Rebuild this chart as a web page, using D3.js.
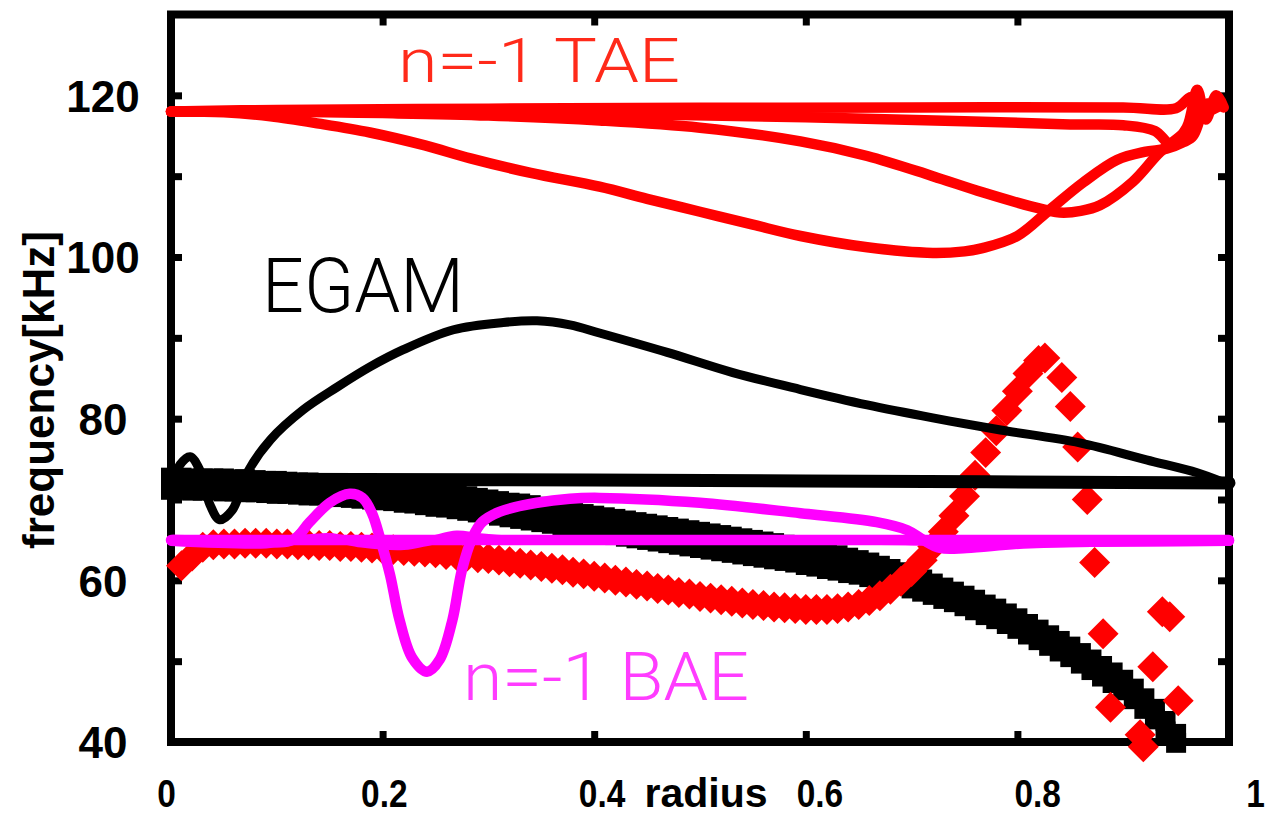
<!DOCTYPE html>
<html><head><meta charset="utf-8">
<script src="https://cdn.jsdelivr.net/npm/d3@7"></script>
<style>body{margin:0;background:#fff;} svg{display:block;}</style>
</head><body>
<svg id="chart" width="1281" height="816"></svg>
<script>
// ---------- ticks ----------
const xTickMarks = [0.2, 0.4, 0.6, 0.8];
const xTickLabels = [0, 0.2, 0.4, 0.6, 0.8, 1];
const yTickMarks = [50, 60, 70, 80, 90, 100, 110, 120];
const yTickLabels = [40, 60, 80, 100, 120];

// ---------- n=-1 TAE lines (red) ----------
const taeFlatUpper = [[0,118.0],[0.1,118.2],[0.3,118.35],[0.5,118.45],[0.7,118.5],[0.9,118.5],[0.95,118.4],[0.965,119.8],[0.975,118.0],[0.99,118.6]];
const taeFlatLower = [[0,118.0],[0.2,117.95],[0.4,117.7],[0.6,117.3],[0.75,116.8],[0.85,116.4],[0.9,116.3],[0.93,115.6],[0.945,114.0],[0.96,116.0],[0.97,120.7],[0.978,117.0],[0.988,120.0],[0.995,118.5]];
const taeCurveA = [[0,118.0],[0.1,118.0],[0.2,117.8],[0.3,117.5],[0.405,116.9],[0.5,116.0],[0.595,114.3],[0.658,112.5],[0.72,110.0],[0.767,108.0],[0.812,106.3],[0.84,105.5],[0.86,105.7],[0.878,106.4],[0.909,109.3],[0.935,113.0],[0.957,115.3],[0.972,117.5],[0.98,119.0]];
const taeCurveB = [[0,118.0],[0.05,117.9],[0.094,117.4],[0.14,116.5],[0.188,115.4],[0.24,113.8],[0.283,112.2],[0.34,110.4],[0.405,108.7],[0.45,107.2],[0.5,105.6],[0.55,104.0],[0.595,102.6],[0.658,101.2],[0.72,100.5],[0.75,100.7],[0.767,101.1],[0.8,102.6],[0.831,105.9],[0.862,109.2],[0.894,112.0],[0.92,113.0],[0.941,113.4],[0.957,114.2],[0.966,115.0],[0.975,118.5]];

// ---------- EGAM & black lines ----------
const egam = [[0,71.5],[0.0085,74.3],[0.018,75.3],[0.027,73.7],[0.037,69.3],[0.046,67.5],[0.058,68.7],[0.072,73.3],[0.094,77.4],[0.125,81.1],[0.157,83.9],[0.188,86.4],[0.219,88.5],[0.267,91.0],[0.314,91.9],[0.346,92.1],[0.377,91.6],[0.405,90.6],[0.469,88.2],[0.531,85.7],[0.595,83.6],[0.658,81.7],[0.72,80.1],[0.784,78.6],[0.859,77.0],[0.922,74.9],[0.97,73.3],[0.993,72.2]];
const blackFlat = [[0,72.5],[0.3,72.45],[0.6,72.3],[1.0,72.05]];

// ---------- BAE lines (magenta) ----------
const baeFlat = [[0,65.0],[0.2,65.0],[0.5,65.0],[0.8,65.0],[1.0,65.0]];
const baeWavy = [[0,64.8],[0.09,64.5],[0.12,65.0],[0.15,65.3],[0.18,64.6],[0.22,64.3],[0.245,64.9],[0.27,65.6],[0.29,65.3],[0.32,65.0],[0.5,65.0],[0.72,64.8],[0.75,64.4],[0.8,64.6],[1.0,64.8]];
const baeCurve = [[0.002,65.0],[0.075,64.9],[0.115,65.0],[0.131,67.2],[0.15,69.6],[0.169,70.7],[0.181,70.2],[0.19,68.3],[0.198,65.0],[0.207,60.7],[0.216,55.1],[0.228,50.4],[0.242,48.7],[0.254,50.2],[0.266,55.1],[0.275,61.3],[0.285,65.3],[0.294,67.2],[0.311,68.5],[0.346,69.6],[0.377,70.1],[0.405,70.2],[0.5,69.6],[0.595,68.3],[0.667,67.2],[0.696,66.2],[0.711,65.0],[0.727,64.0],[0.752,64.0],[0.812,64.6],[1.0,64.9]];

// ---------- red diamond points ----------
const redDiamonds = [[0.01,61.8],[0.02,63.0],[0.03,64.1],[0.04,64.4],[0.05,64.5],[0.06,64.5],[0.07,64.6],[0.08,64.6],[0.09,64.6],[0.10,64.5],
[0.11,64.5],[0.12,64.4],[0.13,64.4],[0.14,64.3],[0.15,64.3],[0.16,64.2],[0.17,64.2],[0.18,64.1],[0.19,64.0],[0.20,63.9],
[0.21,63.8],[0.22,63.7],[0.23,63.6],[0.24,63.5],[0.25,63.4],[0.26,63.2],[0.27,63.1],[0.28,63.0],[0.29,62.8],[0.30,62.7],
[0.31,62.5],[0.32,62.3],[0.33,62.1],[0.34,61.9],[0.35,61.7],[0.36,61.5],[0.37,61.3],[0.38,61.0],[0.39,60.8],[0.40,60.5],
[0.41,60.3],[0.42,60.0],[0.43,59.8],[0.44,59.5],[0.45,59.3],[0.46,59.0],[0.47,58.8],[0.48,58.5],[0.49,58.3],[0.50,58.0],
[0.51,57.8],[0.52,57.6],[0.53,57.4],[0.54,57.2],[0.55,57.0],[0.56,56.9],[0.57,56.7],[0.58,56.6],[0.59,56.5],[0.60,56.4],
[0.61,56.4],[0.62,56.4],[0.63,56.5],[0.64,56.7],[0.65,57.0],[0.66,57.5],[0.67,58.1],[0.68,58.9],[0.69,59.9],[0.70,61.1],
[0.71,62.5],[0.72,64.2],[0.73,66.0],[0.74,68.0],[0.75,70.4],[0.76,73.0],[0.77,75.8],[0.78,78.5],[0.79,81.0],[0.80,83.4],
[0.81,85.6],[0.82,87.2],[0.826,87.5],
[0.842,85.1],[0.850,81.5],[0.857,76.5],[0.866,70.0],[0.873,62.2],[0.881,53.4],[0.888,44.3],[0.916,40.9],[0.919,39.4],
[0.928,49.3],[0.937,56.1],[0.944,55.5],[0.952,45.1]];

// ---------- black square points (two branches) ----------
const squareR = [0,0.01,0.02,0.03,0.04,0.05,0.06,0.07,0.08,0.09,0.10,0.11,0.12,0.13,0.14,0.15,0.16,0.17,0.18,0.19,
0.20,0.21,0.22,0.23,0.24,0.25,0.26,0.27,0.28,0.29,0.30,0.31,0.32,0.33,0.34,0.35,0.36,0.37,0.38,0.39,
0.40,0.41,0.42,0.43,0.44,0.45,0.46,0.47,0.48,0.49,0.50,0.51,0.52,0.53,0.54,0.55,0.56,0.57,0.58,0.59,
0.60,0.61,0.62,0.63,0.64,0.65,0.66,0.67,0.68,0.69,0.70,0.71,0.72,0.73,0.74,0.75,0.76,0.77,0.78,0.79,
0.80,0.81,0.82,0.83,0.84,0.85,0.86,0.87,0.88,0.89,0.90,0.91,0.92,0.93,0.94,0.95];
const squareUpper = [72.7,72.7,72.6,72.6,72.6,72.6,72.5,72.5,72.4,72.3,72.3,72.2,72.1,72.1,72.0,71.9,71.8,71.7,71.6,71.6,
71.5,71.4,71.2,71.1,71.0,70.8,70.7,70.5,70.4,70.2,70.0,69.8,69.6,69.5,69.3,69.1,68.9,68.7,68.4,68.2,
68.0,67.8,67.6,67.4,67.2,67.0,66.8,66.6,66.4,66.2,66.0,65.8,65.6,65.4,65.2,65.0,64.8,64.6,64.4,64.1,
63.9,63.6,63.4,63.1,62.8,62.5,62.2,61.8,61.4,61.0,60.6,60.1,59.6,59.1,58.6,58.1,57.6,57.0,56.5,55.9,
55.3,54.6,53.9,53.2,52.5,51.8,51.0,50.2,49.4,48.6,47.7,46.6,45.4,44.1,42.6,41.0];
const squareLower = [71.2,71.2,71.1,71.1,71.1,71.0,71.0,70.9,70.9,70.8,70.7,70.7,70.6,70.5,70.5,70.4,70.3,70.2,70.1,70.0,
69.9,69.8,69.6,69.5,69.3,69.1,69.0,68.8,68.6,68.4,68.2,68.0,67.8,67.6,67.4,67.2,67.0,66.8,66.5,66.3,
66.0,65.8,65.6,65.4,65.2,65.0,64.8,64.6,64.4,64.2,64.0,63.8,63.6,63.4,63.2,63.0,62.8,62.6,62.4,62.2,
61.9,61.7,61.4,61.2,60.9,60.7,60.4,60.1,59.7,59.4,59.0,58.6,58.2,57.7,57.3,56.8,56.3,55.7,55.2,54.6,
54.0,53.3,52.6,51.9,51.2,50.5,49.7,48.9,48.1,47.3,46.4,45.3,44.1,42.8,41.3,39.9];

// ---------- drawing ----------
const svg = d3.select("#chart");
const x = d3.scaleLinear().domain([0, 1]).range([171, 1229]);
const y = d3.scaleLinear().domain([40, 130]).range([742, 14.5]);
const xLab = d3.scaleLinear().domain([0, 1]).range([166, 1255]);

const boldFont = "'Liberation Sans', Arial, Helvetica, sans-serif";
const thinFont = "Roboto, 'Open Sans', 'Liberation Sans', sans-serif";

// frame
svg.append("rect")
  .attr("x", x(0)).attr("y", y(130))
  .attr("width", x(1) - x(0)).attr("height", y(40) - y(130))
  .attr("fill", "none").attr("stroke", "#000").attr("stroke-width", 8);

function tickStyle(g) {
  g.select(".domain").remove();
  g.selectAll(".tick line").attr("stroke", "#000").attr("stroke-width", 7);
}
svg.append("g").attr("transform", `translate(${x(0)},0)`)
  .call(d3.axisLeft(y).tickValues(yTickMarks).tickSize(-11).tickFormat("")).call(tickStyle);
svg.append("g").attr("transform", `translate(${x(1)},0)`)
  .call(d3.axisRight(y).tickValues(yTickMarks).tickSize(-11).tickFormat("")).call(tickStyle);
svg.append("g").attr("transform", `translate(0,${y(40)})`)
  .call(d3.axisBottom(x).tickValues(xTickMarks).tickSize(-11).tickFormat("")).call(tickStyle);
svg.append("g").attr("transform", `translate(0,${y(130)})`)
  .call(d3.axisTop(x).tickValues(xTickMarks).tickSize(-11).tickFormat("")).call(tickStyle);

// y tick labels
svg.append("g").attr("transform", `translate(${x(0)},0)`)
  .call(d3.axisLeft(y).tickValues(yTickLabels).tickSize(0).tickFormat(d3.format("d")))
  .call(g => {
    g.select(".domain").remove();
    g.attr("font-family", boldFont).attr("font-size", 44).attr("font-weight", "bold");
    g.selectAll("text").attr("x", 103 - x(0)).attr("text-anchor", "middle").attr("dy", "0.36em").attr("fill", "#000");
  });

// x tick labels (condensed)
svg.append("g").attr("transform", `translate(0,${y(40)})`)
  .call(d3.axisBottom(xLab).tickValues(xTickLabels).tickSize(0)
    .tickFormat(d => (d === 0 ? "0" : d === 1 ? "1" : d.toFixed(1))))
  .call(g => {
    g.select(".domain").remove();
    g.attr("font-family", boldFont).attr("font-size", 38).attr("font-weight", "bold");
    g.selectAll("text").attr("y", 807 - y(40)).attr("dy", 0).attr("fill", "#000")
      .each(function () {
        const w = this.getComputedTextLength();
        d3.select(this).attr("textLength", w * 0.88).attr("lengthAdjust", "spacingAndGlyphs");
      });
  });

// axis titles
svg.append("text").text("radius")
  .attr("x", 706).attr("y", 807).attr("text-anchor", "middle")
  .attr("font-family", boldFont).attr("font-size", 41).attr("font-weight", "bold");
svg.append("text").text("frequency[kHz]")
  .attr("transform", "translate(54,390) rotate(-90)").attr("text-anchor", "middle")
  .attr("font-family", boldFont).attr("font-size", 44).attr("font-weight", "bold");

// markers
const sq = d3.symbol(d3.symbolSquare, 400);
const squaresUp = squareR.map((r, i) => [r, squareUpper[i]]);
const squaresLo = squareR.map((r, i) => [r, squareLower[i]]);
svg.append("g").selectAll("path").data(squaresUp.concat(squaresLo)).join("path")
  .attr("d", sq).attr("transform", d => `translate(${x(d[0])},${y(d[1])})`).attr("fill", "#000");

const dia = d3.symbol(d3.symbolSquare, 480);
svg.append("g").selectAll("path").data(redDiamonds).join("path")
  .attr("d", dia).attr("transform", d => `translate(${x(d[0])},${y(d[1])}) rotate(45)`).attr("fill", "#ff0000");

// lines
const line = d3.line().x(d => x(d[0])).y(d => y(d[1])).curve(d3.curveCatmullRom.alpha(0.5));
function drawLine(data, color, w) {
  svg.append("path").datum(data).attr("d", line)
    .attr("fill", "none").attr("stroke", color).attr("stroke-width", w)
    .attr("stroke-linejoin", "round").attr("stroke-linecap", "round");
}
[taeFlatUpper, taeFlatLower, taeCurveA, taeCurveB].forEach(s => drawLine(s, "#ff0000", 10.5));
drawLine(blackFlat, "#000", 13);
drawLine(egam, "#000", 9);
drawLine(baeFlat, "#ff00ff", 10.5);
drawLine(baeWavy, "#ff00ff", 9);
drawLine(baeCurve, "#ff00ff", 10.5);

// annotations
function note(txt, xx, yy, size, len, color) {
  svg.append("text").text(txt).attr("x", xx).attr("y", yy)
    .attr("font-family", thinFont).attr("font-weight", 300).attr("font-size", size)
    .attr("fill", color).attr("textLength", len).attr("lengthAdjust", "spacingAndGlyphs");
}
note("n=-1 TAE", 398, 82, 62, 282, "#ff2a1a");
note("EGAM", 262, 312, 76, 202, "#000");
note("n=-1 BAE", 463, 700, 67, 286, "#ff3cff");
</script>
</body></html>
